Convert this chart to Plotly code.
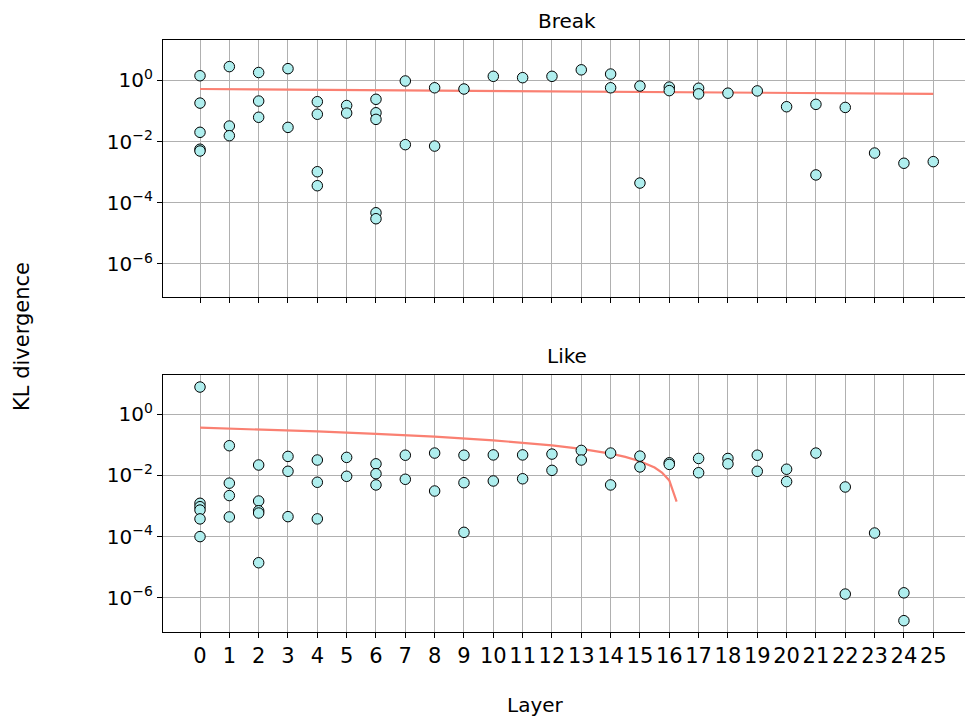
import plotly.graph_objects as go

# ---- data ----
layers = list(range(26))

break_layers = [0, 0, 0, 0, 0,
                1, 1, 1,
                2, 2, 2,
                3, 3,
                4, 4, 4, 4,
                5, 5,
                6, 6, 6, 6, 6,
                7, 7,
                8, 8,
                9,
                10, 11, 12, 13,
                14, 14,
                15, 15,
                16, 16,
                17, 17,
                18, 19, 20,
                21, 21,
                22, 23, 24, 25]
break_kl = [1.41, 0.18, 0.020, 0.0056, 0.0049,
            2.8, 0.032, 0.0155,
            1.8, 0.21, 0.062,
            2.4, 0.029,
            0.20, 0.078, 0.00103, 0.00036,
            0.15, 0.085,
            0.24, 0.087, 0.053, 4.7e-5, 3.0e-5,
            0.95, 0.0079,
            0.57, 0.0071,
            0.52,
            1.35, 1.22, 1.35, 2.2,
            1.6, 0.57,
            0.65, 0.00044,
            0.60, 0.46,
            0.55, 0.36,
            0.38, 0.45, 0.137,
            0.164, 0.00081,
            0.13, 0.0042, 0.00195, 0.0022]

like_layers = [0, 0, 0, 0, 0, 0,
               1, 1, 1, 1,
               2, 2, 2, 2, 2,
               3, 3, 3,
               4, 4, 4,
               5, 5,
               6, 6, 6,
               7, 7,
               8, 8,
               9, 9, 9,
               10, 10,
               11, 11,
               12, 12,
               13, 13,
               14, 14,
               15, 15,
               16, 16,
               17, 17,
               18, 18,
               19, 19,
               20, 20,
               21,
               22, 22,
               23,
               24, 24]
like_kl = [7.8, 0.00123, 0.00095, 0.00074, 0.00038, 1.0e-4,
           0.094, 0.0056, 0.0022, 0.00044,
           0.022, 0.00146, 0.0007, 0.00059, 1.4e-5,
           0.042, 0.0137, 0.00045,
           0.032, 0.0060, 0.00038,
           0.039, 0.0094,
           0.024, 0.0114, 0.0049,
           0.046, 0.0075,
           0.054, 0.0031,
           0.046, 0.0058, 1.38e-4,
           0.047, 0.0066,
           0.047, 0.0078,
           0.050, 0.0147,
           0.066, 0.032,
           0.054, 0.0049,
           0.043, 0.019,
           0.026, 0.023,
           0.036, 0.0123,
           0.036, 0.024,
           0.046, 0.0137,
           0.016, 0.0063,
           0.054,
           0.0042, 1.32e-6,
           1.31e-4,
           1.45e-6, 1.78e-7]

# trend lines
break_trend_x = [0, 5, 10, 15, 20, 25]
break_trend_y = [0.52, 0.488, 0.456, 0.424, 0.392, 0.36]
like_trend_x = [0, 2, 4, 6, 8, 10, 12, 13, 14, 14.5, 15, 15.5, 15.75, 16, 16.25]
like_trend_y = [0.365, 0.320, 0.2755, 0.2307, 0.186, 0.1412, 0.0964, 0.0741,
                0.0517, 0.0405, 0.0293, 0.0181, 0.0125, 0.0069, 0.0014]

ytick_vals = [1e-6, 1e-4, 1e-2, 1]
ytick_text = ["10<sup>\u22126</sup>", "10<sup>\u22124</sup>", "10<sup>\u22122</sup>", "10<sup>0</sup>"]

FONT = "DejaVu Sans"
TICK_SIZE = 21
fill = "#AFEEEE"
line_col = "#FA8072"
grid_col = "#b0b0b0"

W, H = 965, 718
ML, MR, MT, MB = 163, 0, 40, 86
plot_h = H - MT - MB


def py(pix):
    return (H - MB - pix) / plot_h


def px(pix):
    return (pix - ML) / (W - ML - MR)


fig = go.Figure()

for xs, ys, xa, ya in [(break_trend_x, break_trend_y, "x", "y"),
                       (like_trend_x, like_trend_y, "x2", "y2")]:
    fig.add_trace(go.Scatter(x=xs, y=ys, mode="lines",
                             line=dict(color=line_col, width=2.2),
                             xaxis=xa, yaxis=ya, showlegend=False, hoverinfo="skip"))

for xs, ys, xa, ya in [(break_layers, break_kl, "x", "y"),
                       (like_layers, like_kl, "x2", "y2")]:
    fig.add_trace(go.Scatter(x=xs, y=ys, mode="markers",
                             marker=dict(size=10.5, color=fill,
                                         line=dict(color="black", width=1)),
                             xaxis=xa, yaxis=ya, showlegend=False))

# x: 0 at pixel 200, 29.33 px per layer; plot area spans 163..965
xrange_ = [(ML - 200.0) / 29.33, (W - 200.0) / 29.33]
common_x = dict(range=xrange_, tickmode="array", tickvals=layers,
                showgrid=True, gridcolor=grid_col, gridwidth=1.1,
                showline=True, linecolor="black", linewidth=1.1, mirror=True,
                ticks="outside", ticklen=5, tickwidth=1.1, tickcolor="black",
                zeroline=False, tickangle=0, automargin=False,
                tickfont=dict(family=FONT, size=TICK_SIZE, color="black"))
common_y = dict(type="log", tickmode="array", tickvals=ytick_vals, ticktext=ytick_text,
                showgrid=True, gridcolor=grid_col, gridwidth=1.1,
                showline=True, linecolor="black", linewidth=1.1, mirror=False,
                ticks="outside", ticklen=5, tickwidth=1.1, tickcolor="black",
                zeroline=False, automargin=False,
                tickfont=dict(family=FONT, size=20, color="black"))

fig.update_layout(
    width=W, height=H,
    margin=dict(l=ML, r=MR, t=MT, b=MB, autoexpand=False),
    plot_bgcolor="white", paper_bgcolor="white",
    xaxis=dict(common_x, domain=[0, 1], anchor="y", showticklabels=False),
    yaxis=dict(common_y, domain=[py(297), 1], anchor="x", range=[-7.08, 1.317]),
    xaxis2=dict(common_x, domain=[0, 1], anchor="y2", showticklabels=True),
    yaxis2=dict(common_y, domain=[0, py(375)], anchor="x2", range=[-7.12, 1.286]),
    font=dict(family=FONT, color="black"),
)

title_x = px(567)
fig.add_annotation(text="Break", x=title_x, y=py(21), xref="paper", yref="paper",
                   showarrow=False, xanchor="center", yanchor="middle",
                   font=dict(family=FONT, size=20, color="black"))
fig.add_annotation(text="Like", x=title_x, y=py(356), xref="paper", yref="paper",
                   showarrow=False, xanchor="center", yanchor="middle",
                   font=dict(family=FONT, size=20, color="black"))
fig.add_annotation(text="Layer", x=px(535), y=py(705), xref="paper", yref="paper",
                   showarrow=False, xanchor="center", yanchor="middle",
                   font=dict(family=FONT, size=20, color="black"))
fig.add_annotation(text="KL divergence", x=px(22.5), y=py(336.5),
                   xref="paper", yref="paper", textangle=-90,
                   showarrow=False, xanchor="center", yanchor="middle",
                   font=dict(family=FONT, size=21, color="black"))

fig.write_html("out.html",
               config={"displayModeBar": False},
               post_script="document.body.style.margin='0px';"
                           "document.body.style.overflow='hidden';")
